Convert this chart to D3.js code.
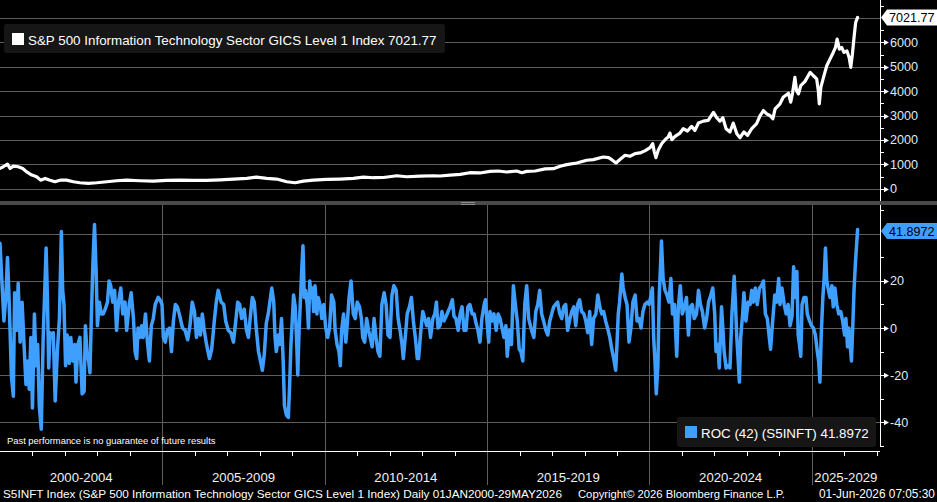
<!DOCTYPE html>
<html><head><meta charset="utf-8">
<script src="https://cdn.jsdelivr.net/npm/d3@7"></script>
<style>html,body{margin:0;padding:0;background:#000;overflow:hidden}svg{display:block}</style>
</head><body>
<svg id="c" width="937" height="502"></svg>
<script>
// ---------------- DATA ----------------
const priceTicks = [0, 1000, 2000, 3000, 4000, 5000, 6000, 7000];
const priceMinorTicks = [500, 1500, 2500, 3500, 4500, 5500, 6500, 7500];
const rocTicks = [-40, -20, 0, 20, 40];
const rocMinorTicks = [-50, -30, -10, 10, 30, 50];
const yearTicks = d3.range(2000, 2028);
const periodStarts = [2000, 2005, 2010, 2015, 2020, 2025];
const periodLabels = ["2000-2004", "2005-2009", "2010-2014", "2015-2019", "2020-2024", "2025-2029"];
const lastPrice = 7021.77;
const lastRoc = 41.8972;

// S5INFT index level [decimal year, value]
const price2000s = [[2000.00,830],[2000.10,900],[2000.23,1005],[2000.31,830],[2000.41,925],[2000.56,900],[2000.70,830],[2000.82,690],[2000.98,560],[2001.13,490],[2001.25,350],[2001.39,420],[2001.54,350],[2001.69,285],[2001.85,350],[2002.05,350],[2002.26,285],[2002.46,245],[2002.72,220],[2002.98,245],[2003.29,285],[2003.59,325],[2003.90,350],[2004.31,325],[2004.72,310],[2005.13,340],[2005.54,350],[2005.95,340],[2006.36,340],[2006.78,365],[2007.19,395],[2007.60,420],[2007.90,475],[2008.21,420],[2008.52,395],[2008.83,285],[2009.09,245],[2009.34,310],[2009.65,350]];
const price2010s = [[2010.06,380],[2010.47,395],[2010.88,420],[2011.19,475],[2011.50,450],[2011.81,460],[2012.22,530],[2012.52,490],[2012.94,515],[2013.35,530],[2013.55,520],[2013.86,560],[2014.17,590],[2014.47,655],[2014.78,645],[2015.09,710],[2015.35,725],[2015.60,685],[2015.91,725],[2016.07,655],[2016.22,710],[2016.48,725],[2016.79,810],[2017.04,820],[2017.25,920],[2017.45,985],[2017.76,1055],[2018.07,1165],[2018.27,1190],[2018.58,1300],[2018.74,1275],[2018.84,1190],[2018.97,1055],[2019.09,1195],[2019.25,1370],[2019.40,1330],[2019.56,1440],[2019.71,1465],[2019.86,1550]];
const price2020s = [[2020.02,1685],[2020.10,1850],[2020.15,1510],[2020.20,1275],[2020.27,1575],[2020.38,1850],[2020.51,2050],[2020.58,2120],[2020.63,2280],[2020.69,2010],[2020.79,2145],[2020.94,2280],[2021.04,2460],[2021.17,2365],[2021.30,2555],[2021.40,2390],[2021.51,2690],[2021.66,2770],[2021.81,2800],[2021.97,3125],[2022.07,2910],[2022.17,2770],[2022.26,2910],[2022.36,2460],[2022.48,2325],[2022.58,2690],[2022.69,2255],[2022.79,2090],[2022.91,2325],[2023.02,2185],[2023.15,2460],[2023.30,2665],[2023.41,3000],[2023.51,3205],[2023.61,3070],[2023.71,3000],[2023.80,2865],[2023.87,3275],[2024.02,3480],[2024.12,3750],[2024.28,3910],[2024.35,3550],[2024.41,3950],[2024.48,4565],[2024.53,4020],[2024.59,3885],[2024.66,4225],[2024.79,4400],[2024.95,4770],[2025.05,4630],[2025.15,4500],[2025.20,4020],[2025.23,3480],[2025.28,4160],[2025.36,4565],[2025.46,5040],[2025.56,5310],[2025.66,5585],[2025.73,5790],[2025.78,6130],[2025.85,5720],[2025.92,5790],[2025.99,5585],[2026.08,5650],[2026.15,5380],[2026.20,4975],[2026.25,5515],[2026.30,6195],[2026.35,6810],[2026.41,7021.77]];

// ROC (42) [decimal year, value]
const roc2000s = [[2000.00,36],[2000.08,14],[2000.12,3],[2000.18,13],[2000.23,30],[2000.27,16],[2000.31,-1],[2000.35,-20],[2000.41,-29],[2000.45,15],[2000.51,-1],[2000.56,19],[2000.62,-6],[2000.68,11],[2000.74,-7],[2000.80,-24],[2000.85,-14],[2000.90,-26],[2000.95,-4],[2001.00,-34],[2001.06,6],[2001.11,-16],[2001.16,-7],[2001.21,-33],[2001.27,-43],[2001.33,-4],[2001.38,17],[2001.42,34],[2001.46,13],[2001.50,-17],[2001.54,-2],[2001.60,-4],[2001.64,-2],[2001.70,-31],[2001.77,-9],[2001.83,4],[2001.89,41],[2001.93,16],[2001.97,10],[2002.02,-16],[2002.07,-3],[2002.13,-15],[2002.18,-4],[2002.24,-14],[2002.30,-7],[2002.34,-23],[2002.40,-7],[2002.46,-4],[2002.53,-28],[2002.59,-27],[2002.63,1],[2002.68,-11],[2002.73,-14],[2002.77,-19],[2002.81,3],[2002.86,27],[2002.91,44],[2002.96,24],[2003.00,1],[2003.06,11],[2003.12,6],[2003.18,6],[2003.24,8],[2003.31,11],[2003.36,20],[2003.41,18],[2003.47,11],[2003.53,16],[2003.59,-1],[2003.65,11],[2003.72,17],[2003.78,6],[2003.85,11],[2003.90,-1],[2003.98,10],[2004.04,15],[2004.11,4],[2004.16,-10],[2004.21,-13],[2004.25,0],[2004.31,-4],[2004.36,1],[2004.41,-4],[2004.48,6],[2004.54,-6],[2004.60,-14],[2004.66,1],[2004.72,4],[2004.78,10],[2004.87,13],[2004.93,12],[2004.99,10],[2005.03,-4],[2005.09,-6],[2005.15,-1],[2005.22,0],[2005.28,-10],[2005.34,3],[2005.40,10],[2005.46,9],[2005.52,6]];
const roc2005s = [[2005.62,0],[2005.70,-1],[2005.78,-5],[2005.85,1],[2005.92,11],[2005.99,7],[2006.05,-4],[2006.11,4],[2006.17,-3],[2006.23,6],[2006.29,-1],[2006.36,-7],[2006.45,-13],[2006.52,-9],[2006.60,3],[2006.66,11],[2006.72,16],[2006.81,11],[2006.89,10],[2006.95,3],[2007.03,-1],[2007.11,-2],[2007.19,-6],[2007.26,3],[2007.32,11],[2007.38,10],[2007.44,4],[2007.52,8],[2007.59,-1],[2007.65,-4],[2007.71,5],[2007.77,13],[2007.83,11],[2007.89,0],[2007.96,-10],[2008.02,-14],[2008.08,-18],[2008.14,-11],[2008.20,2],[2008.26,6],[2008.31,11],[2008.37,17],[2008.43,11],[2008.47,-4],[2008.51,-10],[2008.57,-3],[2008.61,-7],[2008.67,4],[2008.72,-14],[2008.76,-33],[2008.82,-37],[2008.88,-38],[2008.92,-24],[2008.96,-7],[2009.00,3],[2009.04,14],[2009.09,9],[2009.13,-4],[2009.17,-20],[2009.21,-1],[2009.25,11],[2009.29,24],[2009.33,35],[2009.37,13],[2009.41,16],[2009.46,10],[2009.50,0],[2009.54,20],[2009.58,13],[2009.62,17],[2009.66,7],[2009.70,18],[2009.76,6],[2009.80,13],[2009.87,9],[2009.91,4],[2009.97,10],[2010.03,0],[2010.09,-4],[2010.15,0],[2010.21,14],[2010.28,11],[2010.32,-1],[2010.38,-7],[2010.44,-10],[2010.48,-16],[2010.52,-1],[2010.58,6],[2010.65,-6],[2010.69,1],[2010.75,13],[2010.81,20]];
const roc2010s = [[2010.88,6],[2010.94,4],[2011.00,11],[2011.07,9],[2011.13,4],[2011.17,-4],[2011.23,-6],[2011.29,4],[2011.35,-1],[2011.40,-4],[2011.46,-8],[2011.52,4],[2011.58,-4],[2011.64,-10],[2011.70,-12],[2011.76,10],[2011.83,15],[2011.89,10],[2011.95,-3],[2012.01,-4],[2012.07,14],[2012.13,18],[2012.20,16],[2012.26,4],[2012.32,-1],[2012.38,-7],[2012.42,-13],[2012.48,-4],[2012.54,6],[2012.61,9],[2012.67,13],[2012.73,3],[2012.79,-4],[2012.85,-13],[2012.89,-13],[2012.96,-1],[2013.02,7],[2013.08,4],[2013.14,1],[2013.20,4],[2013.26,-4],[2013.33,4],[2013.39,6],[2013.44,11],[2013.49,0],[2013.55,1],[2013.61,7],[2013.67,3],[2013.74,5],[2013.80,7],[2013.86,9],[2013.93,12],[2013.98,5],[2014.04,4],[2014.11,-1],[2014.17,6],[2014.23,9],[2014.29,-1],[2014.35,-1],[2014.41,9],[2014.47,10],[2014.54,6],[2014.60,6],[2014.66,2],[2014.72,-1],[2014.78,-6],[2014.84,4],[2014.91,10],[2014.95,12],[2014.99,4],[2015.05,-6],[2015.09,7],[2015.15,3],[2015.21,6],[2015.28,-1],[2015.34,6],[2015.40,4],[2015.46,0],[2015.52,-4],[2015.58,1],[2015.62,-12],[2015.69,-1],[2015.75,-7],[2015.81,18],[2015.87,10],[2015.93,3],[2015.99,-9],[2016.04,-10],[2016.10,-14],[2016.16,10],[2016.22,18],[2016.28,4]];
const roc2016s = [[2016.37,-1],[2016.44,-4],[2016.50,7],[2016.56,10],[2016.62,16],[2016.68,6],[2016.74,3],[2016.81,-1],[2016.87,-3],[2016.93,3],[2016.99,6],[2017.05,9],[2017.11,10],[2017.17,11],[2017.24,6],[2017.30,4],[2017.36,9],[2017.42,10],[2017.48,-1],[2017.55,4],[2017.61,7],[2017.67,9],[2017.73,1],[2017.79,10],[2017.85,12],[2017.91,7],[2017.98,6],[2018.04,3],[2018.10,-2],[2018.16,7],[2018.22,-7],[2018.28,4],[2018.35,6],[2018.41,14],[2018.47,9],[2018.53,6],[2018.59,7],[2018.65,3],[2018.71,0],[2018.78,-4],[2018.84,-9],[2018.90,-13],[2018.96,-18],[2019.00,-7],[2019.04,6],[2019.08,11],[2019.15,23],[2019.19,17],[2019.25,13],[2019.31,10],[2019.37,-6],[2019.43,0],[2019.49,11],[2019.56,14],[2019.62,3],[2019.68,4],[2019.74,0],[2019.80,7],[2019.86,10],[2019.93,11],[2019.99,10],[2020.05,14],[2020.09,17],[2020.13,-4],[2020.17,-14],[2020.21,-28],[2020.26,-16],[2020.30,13],[2020.34,26],[2020.37,37],[2020.42,21],[2020.48,16],[2020.54,14],[2020.60,11],[2020.66,21],[2020.71,6],[2020.77,10],[2020.84,-12],[2020.89,9],[2020.95,18],[2021.01,6],[2021.08,9],[2021.14,13],[2021.20,-3],[2021.26,9],[2021.32,10],[2021.38,4],[2021.45,6],[2021.51,16],[2021.57,10],[2021.63,7]];
const roc2021s = [[2021.70,0],[2021.76,4],[2021.82,11],[2021.89,14],[2021.95,17],[2022.01,6],[2022.05,-10],[2022.11,-7],[2022.15,-17],[2022.22,9],[2022.26,0],[2022.30,-10],[2022.36,-17],[2022.42,-16],[2022.48,-17],[2022.54,6],[2022.61,22],[2022.65,10],[2022.69,-4],[2022.73,-13],[2022.77,-23],[2022.81,-4],[2022.87,6],[2022.91,15],[2022.97,3],[2023.04,11],[2023.10,10],[2023.15,16],[2023.20,11],[2023.26,17],[2023.32,10],[2023.39,17],[2023.45,18],[2023.51,20],[2023.57,6],[2023.63,4],[2023.69,-4],[2023.73,-9],[2023.80,4],[2023.86,14],[2023.92,11],[2023.98,21],[2024.02,10],[2024.08,17],[2024.15,10],[2024.21,6],[2024.27,10],[2024.33,1],[2024.39,5],[2024.44,26],[2024.49,13],[2024.54,24],[2024.58,-3],[2024.62,-7],[2024.66,-12],[2024.70,10],[2024.76,13],[2024.82,13],[2024.86,6],[2024.93,3],[2024.99,1],[2025.05,0],[2025.11,-3],[2025.17,-10],[2025.21,-14],[2025.25,-23],[2025.29,-3],[2025.34,13],[2025.38,21],[2025.42,34],[2025.46,20],[2025.50,17],[2025.56,13],[2025.62,18],[2025.66,9],[2025.71,17],[2025.77,10],[2025.83,6],[2025.89,7],[2025.95,3],[2026.01,-3],[2026.05,4],[2026.10,-8],[2026.14,0],[2026.18,-7],[2026.22,-14],[2026.26,0],[2026.30,16],[2026.34,27],[2026.41,41.8972]];

const priceSeries = price2000s.concat(price2010s, price2020s);
const rocSeries = roc2000s.concat(roc2005s, roc2010s, roc2016s, roc2021s);

// ---------------- LAYOUT ----------------
const plotRight = 880;
const top1 = 0, bot1 = 201, top2 = 205, bot2 = 451;
const white = "#ffffff", grid = "#5e5e5e", blue = "#3f9fff";
const axisFont = "'Liberation Sans', Arial, sans-serif";

const svg = d3.select("#c");
svg.append("rect").attr("width", 937).attr("height", 502).attr("fill", "#000");

const x = d3.scaleLinear().domain([2000, 2027.1]).range([0, plotRight]);
const yP = d3.scaleLinear().domain([-504, 7734]).range([bot1, top1]);
const yR = d3.scaleLinear().domain([-52.3, 52.3]).range([bot2, top2]);

const defs = svg.append("defs");
defs.append("clipPath").attr("id", "cp1").append("rect").attr("x", 0).attr("y", top1).attr("width", plotRight).attr("height", bot1 - top1);
defs.append("clipPath").attr("id", "cp2").append("rect").attr("x", 0).attr("y", top2).attr("width", plotRight).attr("height", bot2 - top2);

// gridlines
const g1 = svg.append("g");
g1.selectAll("line").data(priceTicks).join("line")
  .attr("x1", 0).attr("x2", plotRight)
  .attr("y1", d => Math.round(yP(d)) + 0.5).attr("y2", d => Math.round(yP(d)) + 0.5)
  .attr("stroke", grid).attr("stroke-width", 1);

const g2 = svg.append("g");
g2.selectAll("line.h").data(rocTicks).join("line").attr("class", "h")
  .attr("x1", 0).attr("x2", plotRight)
  .attr("y1", d => Math.round(yR(d)) + 0.5).attr("y2", d => Math.round(yR(d)) + 0.5)
  .attr("stroke", grid).attr("stroke-width", 1);
g2.selectAll("line.v").data(periodStarts.slice(1)).join("line").attr("class", "v")
  .attr("x1", d => Math.round(x(d)) + 0.5).attr("x2", d => Math.round(x(d)) + 0.5)
  .attr("y1", top2).attr("y2", 485)
  .attr("stroke", grid).attr("stroke-width", 1);

// panel separator
svg.append("rect").attr("x", 0).attr("y", 201).attr("width", 937).attr("height", 4).attr("fill", "#4a4a4a");
svg.append("line").attr("x1", 461).attr("x2", 475).attr("y1", 202.5).attr("y2", 202.5).attr("stroke", "#8a8a8a").attr("stroke-width", 1);
svg.append("line").attr("x1", 461).attr("x2", 475).attr("y1", 204.5).attr("y2", 204.5).attr("stroke", "#8a8a8a").attr("stroke-width", 1);

// series lines
const lineP = d3.line().x(d => x(d[0])).y(d => yP(d[1]));
svg.append("path").datum(priceSeries).attr("clip-path", "url(#cp1)")
  .attr("d", lineP).attr("fill", "none").attr("stroke", white)
  .attr("stroke-width", 3.2).attr("stroke-linejoin", "round").attr("stroke-linecap", "round");

const lineR = d3.line().x(d => x(d[0])).y(d => yR(d[1]));
svg.append("path").datum(rocSeries).attr("clip-path", "url(#cp2)")
  .attr("d", lineR).attr("fill", "none").attr("stroke", blue)
  .attr("stroke-width", 3.5).attr("stroke-linejoin", "round").attr("stroke-linecap", "round");

// right axes
function rightAxis(scale, y0, y1, major, minor, hidden) {
  const g = svg.append("g");
  g.append("line").attr("x1", plotRight + 0.5).attr("x2", plotRight + 0.5).attr("y1", y0).attr("y2", y1).attr("stroke", white);
  g.selectAll("line.mn").data(minor).join("line").attr("class", "mn")
    .attr("x1", plotRight).attr("x2", plotRight + 4)
    .attr("y1", d => Math.round(scale(d)) + 0.5).attr("y2", d => Math.round(scale(d)) + 0.5)
    .attr("stroke", white);
  const maj = major.filter(d => !hidden.includes(d));
  g.selectAll("line.mj").data(maj).join("line").attr("class", "mj")
    .attr("x1", plotRight).attr("x2", plotRight + 5)
    .attr("y1", d => Math.round(scale(d)) + 0.5).attr("y2", d => Math.round(scale(d)) + 0.5)
    .attr("stroke", white);
  g.selectAll("path.tri").data(maj).join("path").attr("class", "tri")
    .attr("d", d => { const yy = Math.round(scale(d)) + 0.5; return `M${plotRight + 4},${yy - 2.8}L${plotRight + 9},${yy}L${plotRight + 4},${yy + 2.8}Z`; })
    .attr("fill", white);
  g.selectAll("text").data(maj).join("text")
    .attr("x", plotRight + 10).attr("y", d => scale(d) + 4.5)
    .attr("fill", "#dfe9f5").attr("font-family", axisFont).attr("font-size", 12.6)
    .text(d => d);
}
rightAxis(yP, 0, bot1, priceTicks, priceMinorTicks, [7000]);
rightAxis(yR, top2, 447, rocTicks, rocMinorTicks, [40]);

// value tags
function tag(yv, fill, label) {
  const h = 16, yy = yv;
  svg.append("path")
    .attr("d", `M${plotRight + 1},${yy}L${plotRight + 7},${yy - h / 2}L937,${yy - h / 2}L937,${yy + h / 2}L${plotRight + 7},${yy + h / 2}Z`)
    .attr("fill", fill);
  svg.append("text").attr("x", plotRight + 9).attr("y", yy + 5)
    .attr("fill", "#000").attr("font-family", axisFont).attr("font-size", 12.6).text(label);
}
tag(yP(lastPrice), "#ffffff", "7021.77");
tag(yR(lastRoc) + 1.5, blue, "41.8972");

// bottom time axis
svg.append("line").attr("x1", 0).attr("x2", plotRight).attr("y1", bot2 + 0.5).attr("y2", bot2 + 0.5).attr("stroke", white);
svg.append("g").selectAll("line").data(yearTicks.filter(d => periodStarts.indexOf(d) < 0)).join("line")
  .attr("x1", d => Math.round(x(d)) + 0.5).attr("x2", d => Math.round(x(d)) + 0.5)
  .attr("y1", bot2).attr("y2", bot2 + 5).attr("stroke", white);
svg.append("g").selectAll("text").data(periodStarts).join("text")
  .attr("x", (d) => (Math.max(x(d), 0) + Math.min(x(d + 5), plotRight)) / 2)
  .attr("y", 481.5).attr("text-anchor", "middle")
  .attr("fill", "#f0f0f0").attr("font-family", axisFont).attr("font-size", 13.2)
  .text((d, i) => periodLabels[i]);

// legends
function fitText(sel, width) {
  const l = sel.node().getComputedTextLength();
  const fs = parseFloat(sel.attr("font-size"));
  sel.attr("font-size", fs * width / l);
}
svg.append("rect").attr("x", 4).attr("y", 24).attr("width", 441).attr("height", 29).attr("rx", 3).attr("fill", "#161616");
svg.append("rect").attr("x", 12).attr("y", 33).attr("width", 12).attr("height", 12).attr("fill", white);
fitText(svg.append("text").attr("x", 28).attr("y", 45).attr("fill", white)
  .attr("font-family", axisFont).attr("font-size", 13.3)
  .text("S&P 500 Information Technology Sector GICS Level 1 Index " + lastPrice.toFixed(2)), 409);

svg.append("rect").attr("x", 677).attr("y", 417).attr("width", 199).attr("height", 30).attr("rx", 3).attr("fill", "#161616");
svg.append("rect").attr("x", 685).attr("y", 426).attr("width", 12).attr("height", 12).attr("fill", blue);
fitText(svg.append("text").attr("x", 701).attr("y", 437.5).attr("fill", white)
  .attr("font-family", axisFont).attr("font-size", 13.3)
  .text("ROC (42) (S5INFT) " + lastRoc.toFixed(4)), 168);

fitText(svg.append("text").attr("x", 7).attr("y", 443.5).attr("fill", white)
  .attr("font-family", axisFont).attr("font-size", 9)
  .text("Past performance is no guarantee of future results"), 209);

// footer
fitText(svg.append("text").attr("x", 3).attr("y", 498).attr("fill", white)
  .attr("font-family", axisFont).attr("font-size", 11)
  .text("S5INFT Index (S&P 500 Information Technology Sector GICS Level 1 Index) Daily 01JAN2000-29MAY2026"), 560);
fitText(svg.append("text").attr("x", 578).attr("y", 498).attr("fill", white)
  .attr("font-family", axisFont).attr("font-size", 11)
  .text("Copyright© 2026 Bloomberg Finance L.P."), 207);
fitText(svg.append("text").attr("x", 819).attr("y", 498).attr("fill", white)
  .attr("font-family", axisFont).attr("font-size", 11)
  .text("01-Jun-2026 07:05:30"), 116);
</script>
</body></html>
